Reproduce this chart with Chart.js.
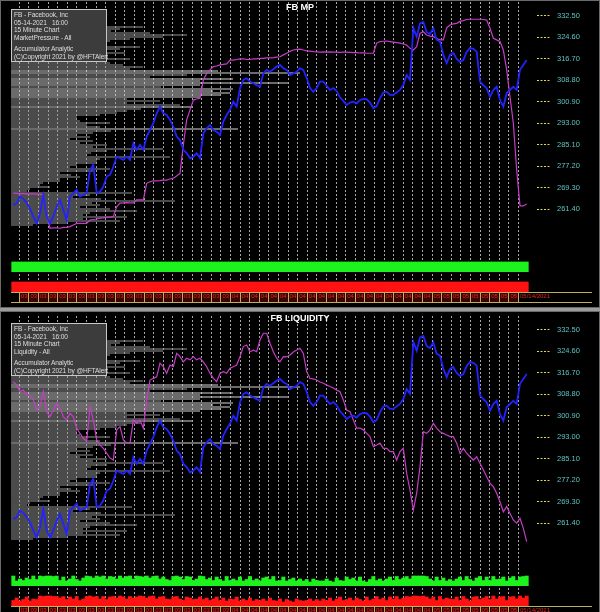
<!DOCTYPE html>
<html>
<head>
<meta charset="utf-8">
<script src="https://cdn.jsdelivr.net/npm/chart.js@4.4.1/dist/chart.umd.min.js"></script>
<style>
  html, body { margin: 0; padding: 0; background: #000; }
  #page { position: relative; width: 600px; height: 612px; overflow: hidden; background: #000; }
  .panel { position: absolute; left: 0; width: 600px; height: 306px; }
  .panel canvas { position: absolute; left: 0; top: 0; }
  .frame { position: absolute; left: 0; width: 598px; border: 1px solid #6a6a6a; pointer-events: none; }
  .sep { position: absolute; left: 0; width: 600px; height: 3px; background: #9c9c9c; }
  .title { position: absolute; left: 0; width: 600px; text-align: center;
           font: bold 9px "Liberation Sans", Arial, sans-serif; color: #fff; }
  .info { position: absolute; left: 11px; top: 9px; width: 96px; height: 53px; box-sizing: border-box;
          background: #3c3c3c; border: 1px solid #c8c8c8; color: #dedede;
          font: 6.6px/7.6px "Liberation Sans", Arial, sans-serif; letter-spacing: -0.1px;
          padding: 1px 0 0 2px; white-space: nowrap; }
  .info .gap { height: 4px; }
  .strip { position: absolute; left: 11px; top: 292px; width: 581px; height: 9px;
           border-top: 1px solid #bfae5a; border-bottom: 1px solid #bfae5a; }
  .stripfill { position: absolute; left: 19px; top: 293px; width: 499px; height: 9px; background: #3a0404; }
</style>
</head>
<body>
<div id="page">
  <div class="panel" style="top:0">
    <div class="stripfill"></div>
    <div class="strip"></div>
    <canvas id="mpChart" width="600" height="306"></canvas>
    <div class="title" style="top:2px">FB MP</div>
    <div class="info">
      <div>FB - Facebook, Inc</div>
      <div>05-14-2021&nbsp;&nbsp;&nbsp;16:00</div>
      <div>15 Minute Chart</div>
      <div>MarketPressure - All</div>
      <div class="gap"></div>
      <div>Accumulator Analytic</div>
      <div>(C)Copyright 2021 by @HFTAlert</div>
    </div>
  </div>
  <div class="frame" style="top:0;height:306px"></div>
  <div class="sep" style="top:308px"></div>
  <div class="panel" style="top:314px">
    <div class="stripfill"></div>
    <div class="strip"></div>
    <canvas id="liqChart" width="600" height="306"></canvas>
    <div class="title" style="top:-1px">FB LIQUIDITY</div>
    <div class="info">
      <div>FB - Facebook, Inc</div>
      <div>05-14-2021&nbsp;&nbsp;&nbsp;16:00</div>
      <div>15 Minute Chart</div>
      <div>Liquidity - All</div>
      <div class="gap"></div>
      <div>Accumulator Analytic</div>
      <div>(C)Copyright 2021 by @HFTAlert</div>
    </div>
  </div>
  <div class="frame" style="top:311px;height:310px"></div>
</div>

<script>
// ---- data -------------------------------------------------------------
// 15-minute bars, numbered from FIRST_BAR
const FIRST_BAR = 4;

const closePrice = [
  262.9, 263.6, 266.0, 265.2, 263.7, 261.7, 258.7, 256.2, 259.9, 266.6,
  258.7, 256.2, 258.7, 262.3, 264.8, 261.1, 257.4, 266.0, 267.3, 268.5,
  266.0, 266.6, 267.3, 275.8, 277.7, 267.4, 267.8, 269.7, 273.4, 274.0,
  277.0, 280.7, 280.1, 279.5, 280.7, 279.5, 285.6, 283.2, 285.0, 283.2,
  288.1, 290.5, 293.0, 296.6, 299.1, 296.6, 296.0, 294.2, 291.7, 288.1,
  286.8, 283.2, 282.0, 280.1, 280.7, 282.0, 280.2, 289.3, 291.1, 292.3,
  290.5, 289.9, 288.7, 293.6, 296.0, 297.9, 300.9, 299.1, 305.8, 308.9,
  309.5, 308.3, 307.7, 307.0, 306.4, 311.3, 312.6, 311.9, 312.8, 313.8,
  314.4, 313.2, 312.6, 310.7, 311.3, 311.9, 313.2, 312.6, 309.6, 305.9,
  304.5, 305.9, 308.3, 308.3, 306.7, 305.2, 305.9, 304.8, 302.5, 301.2,
  299.7, 300.6, 300.9, 300.3, 301.5, 301.9, 301.8, 300.6, 298.5, 299.3,
  302.2, 304.3, 304.6, 303.4, 303.4, 304.3, 305.2, 307.0, 310.7, 308.9,
  328.0, 324.8, 329.7, 330.2, 326.5, 325.8, 327.9, 323.6, 323.0, 318.1,
  315.1, 318.1, 318.8, 316.6, 315.5, 316.2, 319.2, 320.6, 320.3, 319.3,
  308.3, 307.0, 305.8, 302.7, 305.2, 306.4, 301.5, 299.1, 304.0, 305.2,
  306.4, 305.2, 312.6, 314.4, 316.2
];

const marketPressure = [
  267.3, 267.2, 267.1, 267.1, 267.0, 267.0, 267.0, 266.9, 266.9, 266.6,
  259.3, 254.4, 254.5, 254.5, 254.4, 254.7, 254.7, 255.0, 255.6, 256.2,
  256.2, 256.2, 256.2, 257.4, 257.6, 257.8, 258.1, 258.2, 258.4, 258.5,
  258.7, 262.3, 263.6, 263.7, 263.8, 263.7, 263.7, 264.8, 264.8, 264.8,
  270.9, 271.5, 271.8, 271.8, 271.9, 272.1, 272.1, 272.5, 272.8, 273.6,
  274.6, 285.0, 294.2, 297.9, 301.5, 301.9, 302.2, 308.9, 311.3, 312.6,
  313.8, 314.0, 314.4, 314.6, 314.8, 316.2, 316.2, 316.4, 316.6, 316.6,
  316.4, 316.4, 316.6, 316.6, 316.8, 316.8, 317.0, 317.0, 317.1, 317.3,
  317.4, 318.1, 318.7, 319.4, 319.9, 320.1, 320.2, 319.9, 319.6, 319.5,
  319.3, 319.2, 319.1, 319.2, 319.1, 319.2, 319.1, 319.1, 319.0, 319.1,
  319.1, 319.0, 318.9, 318.9, 318.8, 318.8, 318.7, 318.7, 318.7, 322.4,
  323.0, 323.1, 323.2, 323.0, 322.8, 322.6, 322.4, 322.1, 321.7, 320.5,
  319.9, 321.1, 326.0, 326.6, 325.4, 325.0, 324.8, 324.1, 323.6, 323.6,
  328.0, 329.1, 329.5, 329.7, 330.4, 330.7, 331.1, 331.2, 331.2, 331.2,
  331.2, 331.1, 330.9, 327.9, 324.2, 323.6, 323.0, 319.9, 312.6, 302.7,
  293.0, 275.8, 262.6, 262.6, 263.3
];

const liquidity = [
  313.3, 312.2, 309.7, 310.3, 308.5, 308.5, 306.7, 303.0, 304.2, 309.7,
  302.4, 300.5, 303.0, 305.5, 303.6, 300.5, 299.3, 301.8, 300.5, 296.3,
  294.4, 292.6, 291.4, 304.2, 299.3, 292.0, 290.1, 288.9, 287.1, 285.3,
  284.6, 295.7, 296.9, 292.0, 290.8, 290.8, 299.3, 298.1, 299.3, 296.3,
  306.7, 314.0, 314.6, 315.2, 320.2, 318.9, 316.5, 319.5, 318.9, 323.8,
  322.6, 320.7, 322.0, 321.4, 322.6, 321.4, 322.0, 320.7, 318.9, 316.5,
  314.6, 313.4, 316.5, 317.1, 316.5, 318.3, 318.9, 319.5, 322.6, 326.3,
  326.9, 324.4, 325.0, 324.4, 328.7, 331.2, 331.2, 327.5, 324.4, 322.0,
  320.7, 322.6, 322.5, 323.2, 324.3, 325.0, 325.7, 323.8, 317.1, 314.6,
  314.4, 314.0, 313.3, 312.8, 312.2, 311.6, 311.1, 310.3, 309.7, 306.7,
  303.0, 302.4, 299.3, 296.3, 296.3, 295.7, 294.4, 293.2, 289.5, 290.1,
  290.8, 288.9, 288.9, 287.7, 287.7, 284.6, 287.7, 288.9, 279.7, 273.6,
  266.3, 272.4, 282.2, 295.0, 294.4, 295.7, 298.1, 296.3, 295.0, 294.4,
  293.8, 293.2, 293.2, 290.8, 287.1, 288.9, 287.1, 285.8, 284.6, 285.8,
  283.4, 281.0, 278.5, 276.1, 274.8, 272.4, 269.3, 265.6, 267.5, 265.0,
  262.6, 261.4, 263.2, 259.5, 254.6
];

// buy / sell activity per bar (1 = full strength)
const mpBuy = [
  1,1,1,1,1,1,1,1,1,1, 1,1,1,1,1,1,1,1,1,1, 1,1,1,1,1,1,1,1,1,1, 1,1,1,1,1,1,1,1,1,1,
  1,1,1,1,1,1,1,1,1,1, 1,1,1,1,1,1,1,1,1,1, 1,1,1,1,1,1,1,1,1,1, 1,1,1,1,1,1,1,1,1,1,
  1,1,1,1,1,1,1,1,1,1, 1,1,1,1,1,1,1,1,1,1, 1,1,1,1,1,1,1,1,1,1, 1,1,1,1,1,1,1,1,1,1,
  1,1,1,1,1,1,1,1,1,1, 1,1,1,1,1,1,1,1,1,1, 1,1,1,1,1,1,1,1,1,1, 1,1,1,1,1
];
const mpSell = [
  1,1,1,1,1,1,1,1,1,1, 1,1,1,1,1,1,1,1,1,1, 1,1,1,1,1,1,1,1,1,1, 1,1,1,1,1,1,1,1,1,1,
  1,1,1,1,1,1,1,1,1,1, 1,1,1,1,1,1,1,1,1,1, 1,1,1,1,1,1,1,1,1,1, 1,1,1,1,1,1,1,1,1,1,
  1,1,1,1,1,1,1,1,1,1, 1,1,1,1,1,1,1,1,1,1, 1,1,1,1,1,1,1,1,1,1, 1,1,1,1,1,1,1,1,1,1,
  1,1,1,1,1,1,1,1,1,1, 1,1,1,1,1,1,1,1,1,1, 1,1,1,1,1,1,1,1,1,1, 1,1,1,1,1
];
const liqBuy = [
  1.0, 0.5, 0.7, 0.55, 0.8, 0.65, 1.0, 0.65,
  1, 0.95, 1, 1, 0.95, 1,
  0.55, 0.9, 0.5, 0.7, 1.0, 0.65, 0.5, 0.8,
  1, 0.95, 0.8, 1, 0.9, 1, 0.7, 0.95,
  0.9, 0.7, 1, 0.8, 0.95, 1, 0.7,
  1, 0.95, 0.9, 1, 0.8, 0.95, 1, 0.7, 0.9, 0.65,
  0.55, 0.95, 1, 0.9, 0.65, 0.95,
  0.9, 0.55, 0.7, 1, 0.95, 0.65,
  0.8, 0.55, 0.9, 0.65, 0.5, 0.95, 0.55, 0.7,
  0.55, 0.9, 0.5, 0.65, 0.95, 0.55, 0.7, 0.5, 0.8, 0.9,
  0.65, 0.95, 0.5, 0.55, 0.9, 0.5, 0.65, 0.8, 0.5, 0.7,
  0.5, 0.65, 0.4, 0.7, 0.55, 0.5,
  0.5, 0.7, 0.5, 0.4, 0.8, 0.55, 0.5, 0.9, 0.65,
  0.8, 0.5, 0.9, 0.5, 0.4, 0.65, 0.95, 0.55, 0.7,
  0.5, 0.7, 0.9, 0.55, 0.95, 0.65, 0.8, 0.95, 0.7,
  1, 1, 1, 1, 0.95,
  0.7, 0.5, 0.9, 0.55, 0.8, 0.5, 0.65,
  0.5, 0.7, 0.9, 0.55, 0.95, 0.65, 0.5, 0.8, 0.95, 0.55,
  0.9, 0.55, 0.95, 0.65, 0.7, 0.9, 0.5,
  0.8, 0.95, 0.55, 0.9, 0.95, 1
];
const liqSell = [
  0.55, 0.8, 0.5, 0.65, 0.9, 0.5, 0.7, 0.65,
  1, 0.95, 1, 1, 0.95, 0.95,
  0.8, 0.95, 0.65, 0.9, 0.7, 0.95, 0.55, 0.7,
  0.95, 1, 0.9, 0.95, 0.7, 0.95, 0.65, 0.9,
  0.95, 0.8, 1, 0.9, 0.7, 0.95, 0.8,
  0.9, 1, 0.95, 0.8, 0.95, 1, 0.7, 0.9, 0.95, 0.7,
  0.65, 0.9, 0.95, 0.7, 0.55, 0.9,
  0.8, 0.65, 0.7, 0.9, 0.65, 0.8,
  0.55, 0.7, 0.9, 0.55, 0.8, 0.5, 0.7, 0.65,
  0.9, 0.5, 0.7, 0.55, 0.8, 0.5, 0.65, 0.55, 0.7, 0.5,
  0.8, 0.55, 0.5, 0.7, 0.4, 0.65, 0.5, 0.4, 0.7, 0.55,
  0.5, 0.55, 0.7, 0.5, 0.65, 0.5,
  0.7, 0.55, 0.8, 0.5, 0.7, 0.9, 0.55, 0.65, 0.8,
  0.55, 0.8, 0.65, 0.5, 0.9, 0.55, 0.7, 0.95, 0.65,
  0.8, 0.55, 0.9, 0.7, 0.95, 0.65, 0.8, 0.95, 0.9,
  1, 1, 0.95, 1, 0.9,
  0.7, 0.9, 0.55, 0.95, 0.65, 0.8, 0.7,
  0.65, 0.9, 0.55, 0.95, 0.7, 0.5, 0.9, 0.95, 0.65, 0.8,
  0.95, 0.65, 1, 0.7, 0.9, 0.95, 0.55,
  0.9, 0.95, 0.7, 1, 0.8, 1
];

// volume-at-price profile: one bucket every PROFILE_STEP dollars from PROFILE_TOP down
const PROFILE_TOP = 328.53;
const PROFILE_STEP = 0.7349;
const profileVolume = [
  132, 109, 100, 139, 176, 152, 119,  99,  84,  96,
  129, 109,  89, 114,  79,  94, 119,  89,  99, 112,
  132, 119, 207, 289, 176, 139, 222, 189, 277, 189,
  150, 222, 202, 219, 209, 189, 116, 149, 116, 169,
  181, 130, 116, 106,  89,  66,  66,  69,  99,  76,
   89, 227, 100,  82,  66,  79,  59,  82,  69,  96,
   82, 152,  96,  80,  76, 159,  89,  86,  86,  66,
   59,  99,  82,  49,  60,  69,  49,  49,  32,  29,
   39,  19,  16, 121,  79,  62,  90, 164,  81,  89,
   69,  99, 126,  79,  72, 116,  72, 109,  56,  22
];
const profileLevels = profileVolume.map((_, i) => PROFILE_TOP - i * PROFILE_STEP);

const priceTicks = [332.50, 324.60, 316.70, 308.80, 300.90, 293.00, 285.10, 277.20, 269.30, 261.40];

// one label per session box, then the closing date
const dayLabels = [
  '03','03','03','03','03','03','03','03','03','03','03','03','03','03','03','03','03','03','03','03','03','03',
  '04','04','04','04','04','04','04','04','04','04','04','04','04','04','04','04','04','04','04','04','04',
  '05','05','05','05','05','05','05','05','05',
  '05/14/2021'
];

// ---- layout constants -------------------------------------------------
const X_MIN = 3.3, X_MAX = 159.0;           // visible bar range
const SESSION_START = 5.79, SESSION_BARS = 2.88;
const Y_MIN = 244.2, Y_MAX = 337.53;

const sessionMarks = dayLabels.map((_, n) => SESSION_START + n * SESSION_BARS);

function series(values) {
  return values.map((v, i) => ({ x: FIRST_BAR + i, y: v }));
}

function noPadding(s) {
  s.paddingTop = 0; s.paddingBottom = 0; s.paddingLeft = 0; s.paddingRight = 0;
}

function buildPanel(canvasId, pressure, buy, sell) {
  return new Chart(document.getElementById(canvasId), {
    type: 'line',
    data: {
      datasets: [
        { type: 'line', data: series(closePrice), xAxisID: 'x', yAxisID: 'y',
          borderColor: '#2222ff', borderWidth: 1.8, pointRadius: 0, tension: 0, order: 1 },
        { type: 'line', data: series(pressure), xAxisID: 'x', yAxisID: 'y',
          borderColor: '#c63cc6', borderWidth: 1.2, pointRadius: 0, tension: 0, order: 2 },
        { type: 'bar', indexAxis: 'y', xAxisID: 'xv', yAxisID: 'y',
          data: profileVolume.map((v, i) => ({ x: v, y: profileLevels[i] })),
          barThickness: 1, inflateAmount: 0, order: 3,
          backgroundColor: ctx => (ctx.raw && ctx.raw.x > 180) ? '#d6d6d6' : '#969696' },
        { type: 'bar', data: series(buy), xAxisID: 'x', yAxisID: 'yg', grouped: false,
          barPercentage: 1, categoryPercentage: 1, backgroundColor: '#1ef21e', order: 4 },
        { type: 'bar', data: series(sell), xAxisID: 'x', yAxisID: 'yr', grouped: false,
          barPercentage: 1, categoryPercentage: 1, backgroundColor: '#ff1212', order: 5 }
      ]
    },
    options: {
      responsive: false,
      animation: false,
      devicePixelRatio: 1,
      events: [],
      layout: { padding: { left: 11, top: 2, right: 0, bottom: 4 } },
      plugins: { legend: { display: false }, tooltip: { enabled: false }, title: { display: false } },
      scales: {
        x: {
          type: 'linear', position: 'bottom', min: X_MIN, max: X_MAX, offset: false,
          afterBuildTicks: s => { s.ticks = sessionMarks.map(v => ({ value: v })); },
          afterFit: s => { s.height = 0; noPadding(s); },
          ticks: { display: false },
          border: { display: false, dash: [2, 2] },
          grid: { offset: false, color: '#a8a8a8', lineWidth: 1, drawTicks: true, tickLength: 10,
                  tickColor: '#bfae5a', tickWidth: 1, tickBorderDash: [] }
        },
        xd: {
          type: 'linear', position: 'bottom', min: X_MIN, max: X_MAX, offset: false,
          afterBuildTicks: s => { s.ticks = sessionMarks.map(v => ({ value: v + 0.45 })); },
          afterFit: s => { s.height = 10; noPadding(s); },
          border: { display: false },
          grid: { display: false, drawTicks: false },
          ticks: { autoSkip: false, maxRotation: 0, minRotation: 0, align: 'start', padding: 1,
                   color: '#e02828', font: { size: 6, family: 'Liberation Sans, Arial, sans-serif' },
                   callback: (v, i) => dayLabels[i] }
        },
        xv: { type: 'linear', min: 0, max: 519, display: false },
        y: {
          type: 'linear', position: 'right', stack: 'panel', stackWeight: 254,
          min: Y_MIN, max: Y_MAX, offset: false,
          afterBuildTicks: s => { s.ticks = priceTicks.map(v => ({ value: v })); },
          afterFit: s => { s.width = 70; noPadding(s); },
          border: { display: false },
          grid: { offset: false, drawOnChartArea: false, drawTicks: true, tickLength: 20,
                  tickColor: '#e6d84a', tickWidth: 1,
                  tickBorderDash: [0, 7, 2, 1.5, 2, 1.5, 2, 1.5, 2, 20] },
          ticks: { color: '#5cc4c4', padding: 7,
                   font: { size: 7.5, family: 'Liberation Sans, Arial, sans-serif' },
                   callback: v => v.toFixed(2) }
        },
        yg: {
          type: 'linear', position: 'right', stack: 'panel', stackWeight: 16, min: 0, max: 1.6,
          afterFit: s => { s.width = 0; noPadding(s); },
          ticks: { display: false }, border: { display: false }, grid: { display: false, drawTicks: false }
        },
        yr: {
          type: 'linear', position: 'right', stack: 'panel', stackWeight: 20, min: 0, max: 2,
          afterFit: s => { s.width = 0; noPadding(s); },
          ticks: { display: false }, border: { display: false }, grid: { display: false, drawTicks: false }
        }
      }
    }
  });
}

Chart.defaults.font.family = 'Liberation Sans, Arial, sans-serif';
buildPanel('mpChart', marketPressure, mpBuy, mpSell);
buildPanel('liqChart', liquidity, liqBuy, liqSell);
</script>
</body>
</html>
